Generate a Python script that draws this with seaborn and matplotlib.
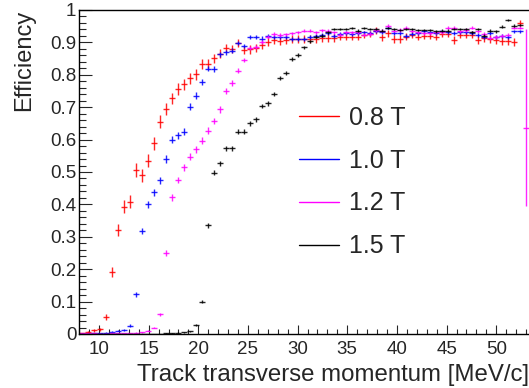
import numpy as np
import pandas as pd
import matplotlib
matplotlib.use("Agg")
import matplotlib.pyplot as plt
from matplotlib.lines import Line2D
from matplotlib.ticker import MultipleLocator, FuncFormatter
import seaborn as sns

# ------------------------------------------------
# Datos: eficiencia por bin de pT (75 bins, 8 - 53.3 MeV/c)
# ------------------------------------------------
bin_edges = np.linspace(8.0, 53.3, 76)

labels = ["0.8 T", "1.0 T", "1.2 T", "1.5 T"]
colors = ["#ff0000", "#0000ff", "#ff00ff", "#000000"]
n_tracks = [600, 2000, 2400, 4000]   # usado solo para el tamaño de las barras de error

eff_08 = [0.002, 0.005, 0.011, 0.015, 0.052, 0.192, 0.321, 0.393, 0.408, 0.506,
          0.490, 0.535, 0.588, 0.655, 0.694, 0.727, 0.756, 0.771, 0.789, 0.801,
          0.832, 0.832, 0.851, 0.865, 0.882, 0.880, 0.899, 0.877, 0.879, 0.882,
          0.892, 0.902, 0.907, 0.905, 0.907, 0.910, 0.910, 0.910, 0.910, 0.910,
          0.914, 0.914, 0.914, 0.918, 0.918, 0.918, 0.918, 0.924, 0.926, 0.936,
          0.916, 0.928, 0.910, 0.911, 0.918, 0.924, 0.918, 0.921, 0.921, 0.918,
          0.926, 0.926, 0.907, 0.924, 0.924, 0.924, 0.907, 0.914, 0.910, 0.907,
          0.905, 0.905, 0.900, 0.960, np.nan]

eff_10 = [0.001, 0.001, 0.002, 0.003, 0.004, 0.007, 0.010, 0.012, 0.026, 0.123,
          0.318, 0.400, 0.437, 0.474, 0.540, 0.599, 0.614, 0.624, 0.702, 0.736,
          0.778, 0.819, 0.818, 0.864, 0.870, 0.875, 0.899, 0.889, 0.916, 0.916,
          0.912, 0.920, 0.918, 0.918, 0.918, 0.910, 0.910, 0.910, 0.916, 0.921,
          0.924, 0.928, 0.921, 0.926, 0.928, 0.926, 0.928, 0.931, 0.928, 0.936,
          0.931, 0.945, 0.928, 0.928, 0.921, 0.926, 0.928, 0.934, 0.931, 0.928,
          0.934, 0.931, 0.928, 0.931, 0.931, 0.928, 0.924, 0.916, 0.928, 0.918,
          0.921, 0.916, 0.934, 0.934, np.nan]

eff_12 = [0.003, 0.002, 0.002, 0.001, 0.001, 0.002, 0.002, 0.003, 0.003, 0.004,
          0.006, 0.010, 0.020, 0.061, 0.249, 0.422, 0.475, 0.514, 0.547, 0.570,
          0.597, 0.628, 0.658, 0.693, 0.751, 0.774, 0.813, 0.846, 0.882, 0.885,
          0.900, 0.918, 0.926, 0.922, 0.925, 0.928, 0.931, 0.936, 0.936, 0.931,
          0.937, 0.936, 0.931, 0.924, 0.931, 0.931, 0.931, 0.924, 0.926, 0.938,
          0.936, 0.952, 0.936, 0.938, 0.945, 0.936, 0.931, 0.928, 0.928, 0.931,
          0.931, 0.945, 0.945, 0.934, 0.938, 0.945, 0.934, 0.926, 0.914, 0.916,
          0.921, 0.924, 0.945, 0.945, 0.636]

eff_15 = [0.0, 0.0, 0.0, 0.0, 0.0, 0.0, 0.0, 0.0, 0.0, 0.0,
          0.0, 0.0, 0.0, 0.001, 0.002, 0.002, 0.004, 0.005, 0.008, 0.028,
          0.099, 0.335, 0.498, 0.527, 0.573, 0.573, 0.624, 0.624, 0.650, 0.663,
          0.704, 0.712, 0.740, 0.791, 0.805, 0.848, 0.861, 0.885, 0.903, 0.918,
          0.921, 0.931, 0.941, 0.941, 0.941, 0.944, 0.936, 0.944, 0.941, 0.941,
          0.936, 0.945, 0.941, 0.938, 0.941, 0.941, 0.938, 0.938, 0.938, 0.934,
          0.936, 0.936, 0.941, 0.941, 0.941, 0.931, 0.941, 0.921, 0.936, 0.934,
          0.949, 0.969, 0.952, 0.955, np.nan]

# ultimo bin de 1.2 T: barra de error asimetrica muy grande
last_12_err = (0.241, 0.304)

# ------------------------------------------------
# DataFrame en formato largo
# ------------------------------------------------
centers = 0.5 * (bin_edges[:-1] + bin_edges[1:])
half_w = 0.5 * np.diff(bin_edges)

frames = []
for lab, vals, n in zip(labels, [eff_08, eff_10, eff_12, eff_15], n_tracks):
    v = np.array(vals, dtype=float)
    err = np.sqrt(np.clip(v * (1 - v), 0, None) / n)
    frames.append(pd.DataFrame({"pt": centers, "xerr": half_w, "eff": v,
                                "err_lo": err, "err_hi": err, "field": lab}))
df = pd.concat(frames, ignore_index=True)
m = (df["field"] == "1.2 T") & np.isclose(df["pt"], centers[-1])
df.loc[m, "err_lo"] = last_12_err[0]
df.loc[m, "err_hi"] = last_12_err[1]

# ------------------------------------------------
# Estilo
# ------------------------------------------------
sns.set_style("ticks")
plt.rcParams["font.family"] = ["Liberation Sans", "DejaVu Sans"]

W, H = 529, 388
fig = plt.figure(figsize=(W / 100, H / 100), dpi=100)
ax = fig.add_axes([79.15 / W, 1 - 334 / H, (W - 79.15) / W, 324 / H])

for lab, col in zip(labels, colors):
    d = df[df["field"] == lab].dropna(subset=["eff"])
    ax.errorbar(d["pt"], d["eff"], xerr=d["xerr"],
                yerr=[d["err_lo"], d["err_hi"]],
                fmt="none", ecolor=col, elinewidth=1.0, capsize=0, alpha=0.85)

ax.set_xlim(8, 53.3)
ax.set_ylim(0, 1)

ax.xaxis.set_major_locator(MultipleLocator(5))
ax.xaxis.set_minor_locator(MultipleLocator(1))
ax.yaxis.set_major_locator(MultipleLocator(0.1))
ax.yaxis.set_minor_locator(MultipleLocator(0.02))
ax.xaxis.set_major_formatter(FuncFormatter(lambda v, p: "" if v < 9 else f"{v:g}"))
ax.yaxis.set_major_formatter(FuncFormatter(lambda v, p: f"{v:g}"))

ax.tick_params(axis="y", which="major", direction="in", length=9.4, width=0.8, labelsize=13.5, pad=2)
ax.tick_params(axis="y", which="minor", direction="in", length=5, width=0.8)
ax.tick_params(axis="x", which="major", direction="in", length=6.8, width=0.8, labelsize=13.5, pad=5)
ax.tick_params(axis="x", which="minor", direction="in", length=3.5, width=0.8)

for s in ["left", "bottom", "top"]:
    ax.spines[s].set_linewidth(1.0)
    ax.spines[s].set_color("black")
ax.spines["right"].set_visible(False)

ax.set_xlabel("Track transverse momentum [MeV/c]", fontsize=17.3, loc="right", labelpad=4)
ax.set_ylabel("Efficiency", fontsize=17, loc="top", labelpad=11)

handles = [Line2D([0], [0], color=c, lw=1.0) for c in colors]
ax.legend(handles, labels, loc="upper left", bbox_to_anchor=((299 - 79.15) / 450, 1 - (106 - 10) / 324),
          frameon=False, fontsize=18, handlelength=1.6, handletextpad=0.4,
          labelspacing=0.75, borderpad=0, borderaxespad=0)

fig.savefig("out.png", dpi=100)
